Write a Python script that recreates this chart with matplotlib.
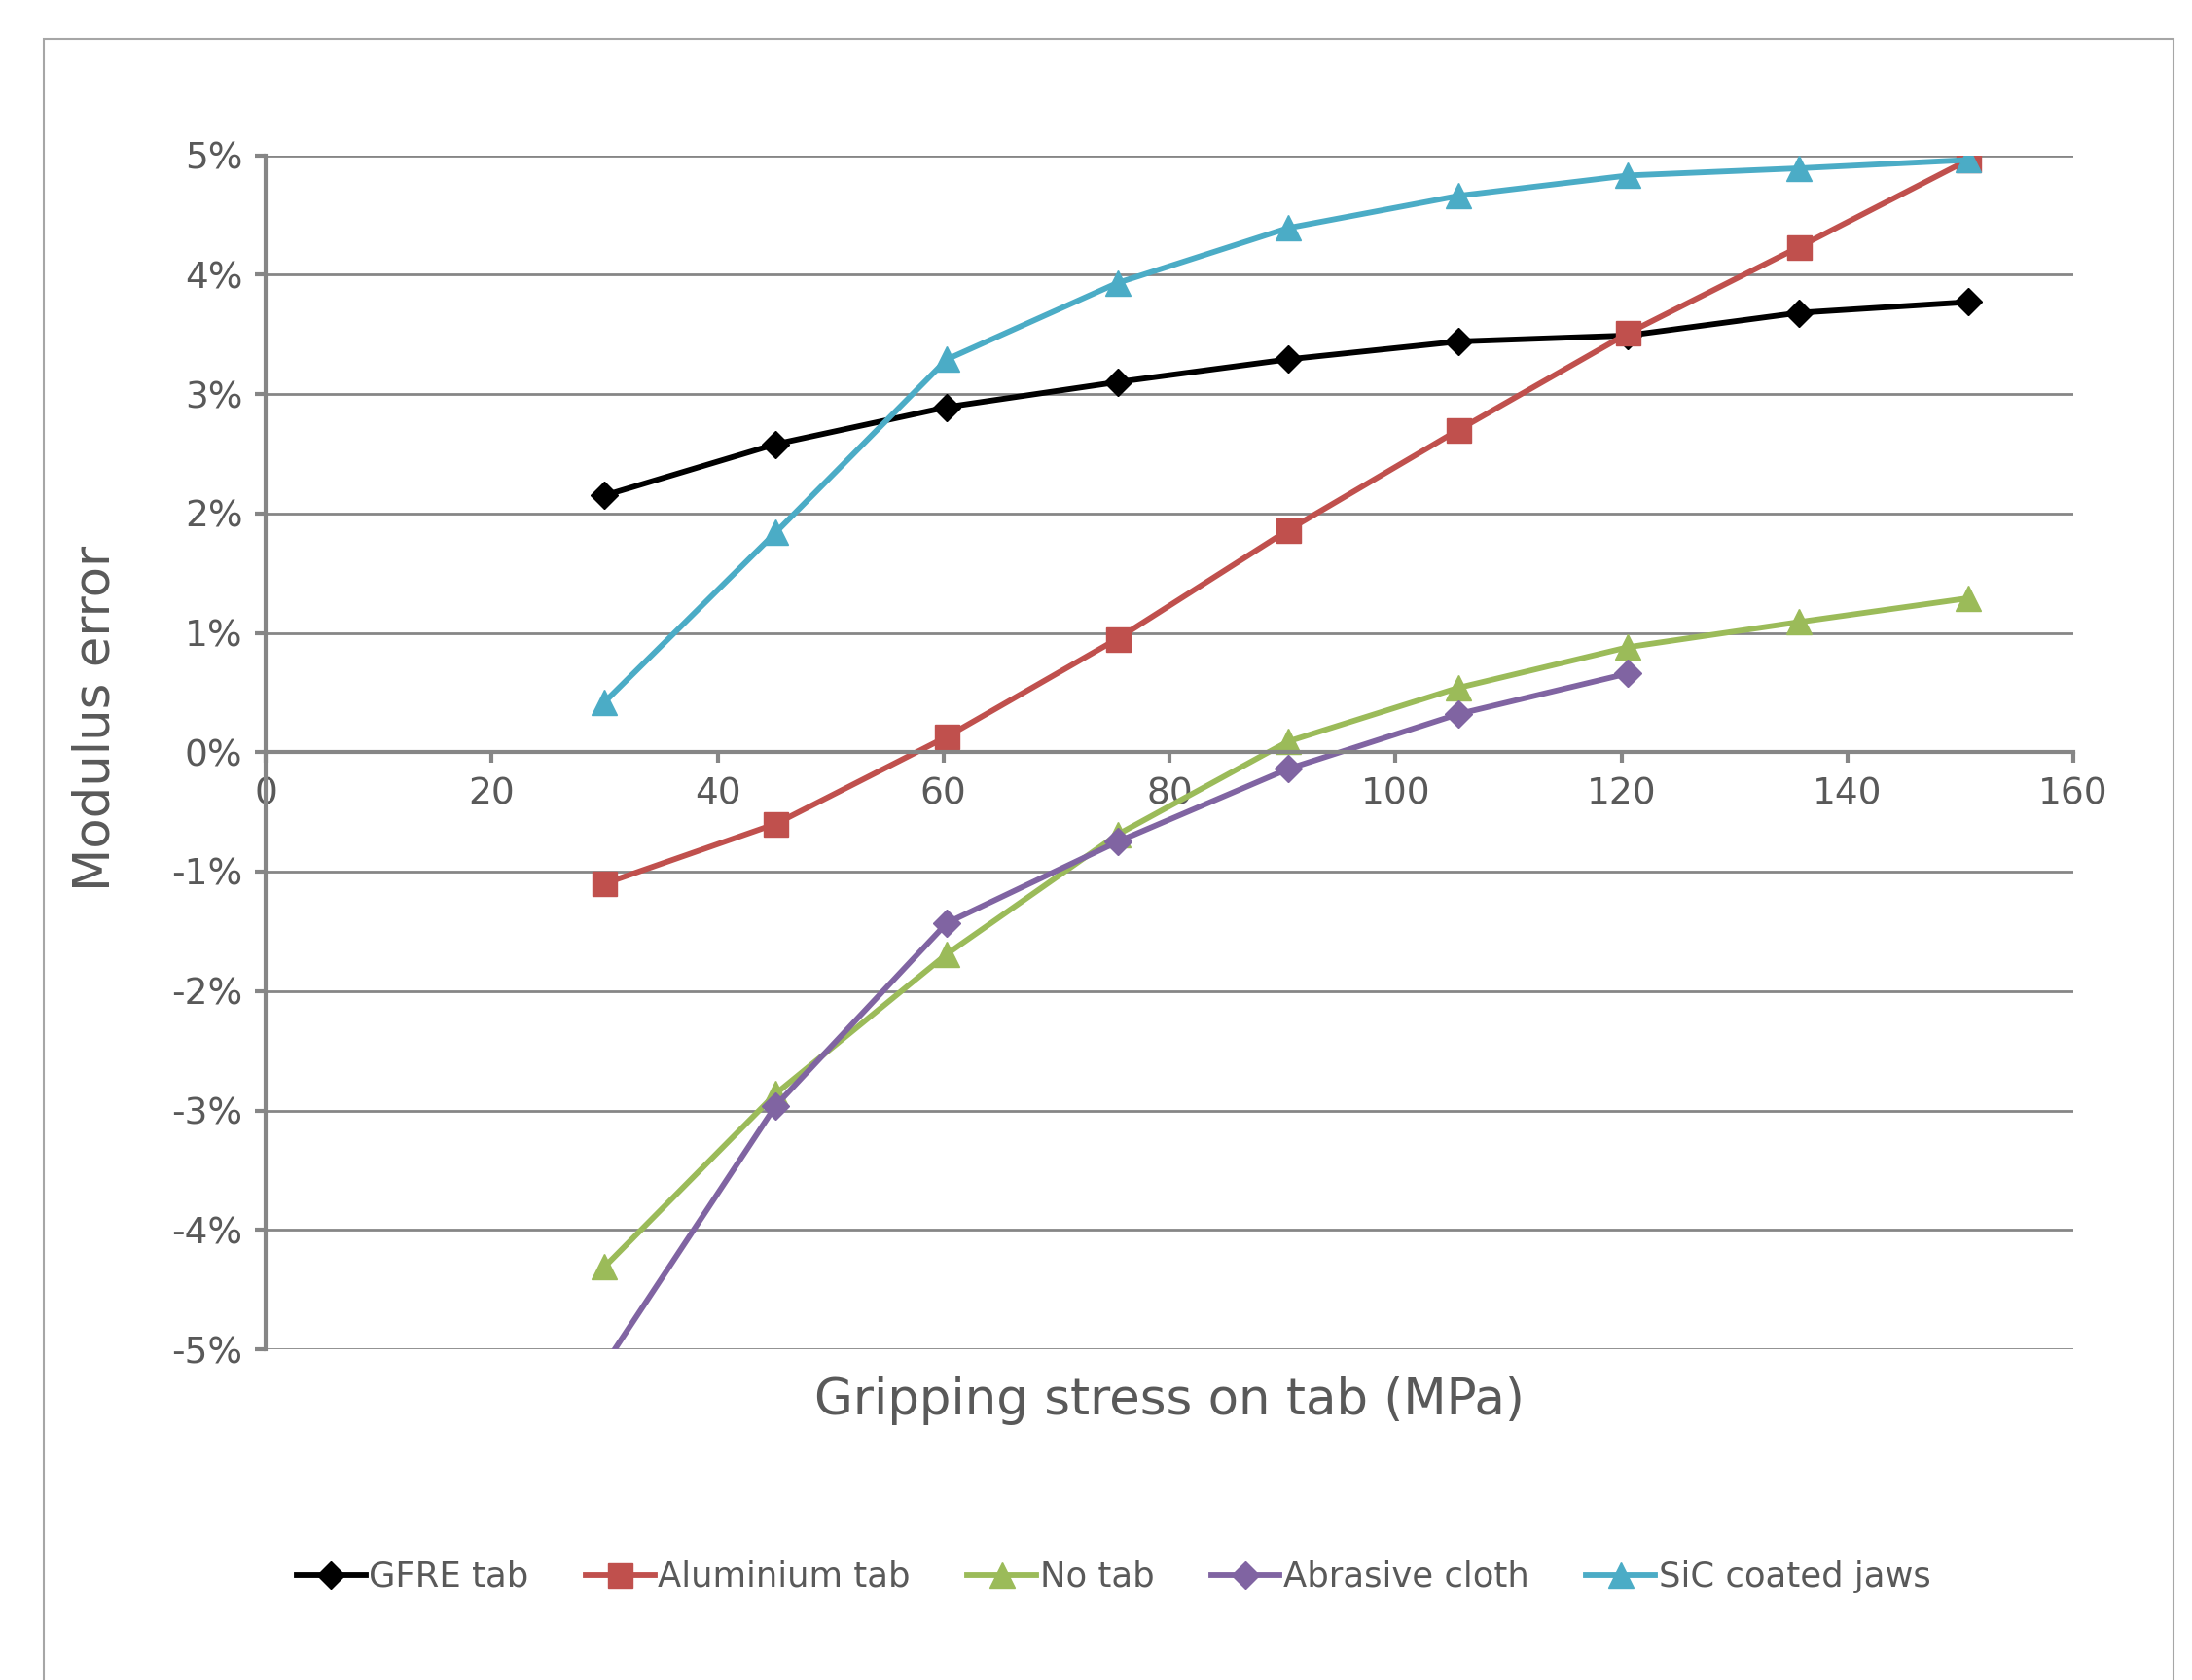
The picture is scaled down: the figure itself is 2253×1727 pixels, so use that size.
import matplotlib
matplotlib.use("Agg")
import matplotlib.pyplot as plt
from matplotlib.patches import Rectangle

# ---- data ----
stress = [30.0, 45.15, 60.3, 75.4, 90.5, 105.6, 120.6, 135.7, 150.7]
gfre = [2.15, 2.58, 2.89, 3.10, 3.29, 3.44, 3.49, 3.68, 3.77]
aluminium = [-1.10, -0.60, 0.13, 0.95, 1.86, 2.70, 3.51, 4.23, 4.96]
no_tab = [-4.31, -2.86, -1.69, -0.69, 0.09, 0.54, 0.88, 1.09, 1.29]
abrasive_x = [30.0, 45.15, 60.3, 75.4, 90.5, 105.6, 120.6]
abrasive = [-5.13, -2.96, -1.43, -0.75, -0.14, 0.32, 0.66]
sic = [0.42, 1.84, 3.29, 3.93, 4.39, 4.66, 4.83, 4.89, 4.96]

series_names = ["GFRE tab", "Aluminium tab", "No tab", "Abrasive cloth", "SiC coated jaws"]
x_ticks = [0, 20, 40, 60, 80, 100, 120, 140, 160]
y_ticks = [-5, -4, -3, -2, -1, 0, 1, 2, 3, 4, 5]
y_tick_labels = ["-5%", "-4%", "-3%", "-2%", "-1%", "0%", "1%", "2%", "3%", "4%", "5%"]

# ---- style ----
plt.rcParams['font.family'] = ['DejaVu Sans']
txt = "#595959"
grid = "#868686"

fig = plt.figure(figsize=(22.53, 17.27), dpi=100)
fig.patch.set_facecolor("white")

# chart area border
fig.add_artist(Rectangle((45/2253, -0.02), (2234-45)/2253, 1-40/1727+0.02,
                         transform=fig.transFigure, fill=False,
                         edgecolor="#a6a6a6", linewidth=1.5))

ax = fig.add_axes([273/2253, 1-1387/1727, (2131-273)/2253, (1387-159.5)/1727])

lw = 4.2
ax.plot(stress, gfre, color="#000000", lw=lw, marker="D", ms=14, label=series_names[0])
ax.plot(stress, aluminium, color="#C0504D", lw=lw, marker="s", ms=18, label=series_names[1])
ax.plot(stress, no_tab, color="#9BBB59", lw=lw, marker="^", ms=19, label=series_names[2])
ax.plot(abrasive_x, abrasive, color="#8064A2", lw=lw, marker="D", ms=14, label=series_names[3])
ax.plot(stress, sic, color="#4BACC6", lw=lw, marker="^", ms=19, label=series_names[4])

ax.set_xlim(0, 160)
ax.set_ylim(-5, 5)
ax.set_xticks(x_ticks)
ax.set_yticks(y_ticks)
ax.set_yticklabels(y_tick_labels)

ax.spines['top'].set_visible(False)
ax.spines['right'].set_visible(False)
ax.spines['bottom'].set_position(('data', 0))
for s in ['left', 'bottom']:
    ax.spines[s].set_color(grid)
    ax.spines[s].set_linewidth(3)

ax.yaxis.grid(True, color=grid, linewidth=2)
ax.set_axisbelow(True)
ax.tick_params(axis='both', colors=grid, length=8, width=3, labelsize=27, labelcolor=txt)
ax.tick_params(axis='x', pad=10)
ax.tick_params(axis='y', pad=9)

ax.set_xlabel("Gripping stress on tab (MPa)", fontsize=37, color=txt)
ax.xaxis.set_label_coords(0.5, -0.043)
ax.xaxis.label.set_va('center')
ax.set_ylabel("Modulus error", fontsize=37, color=txt)
ax.yaxis.set_label_coords(-0.094, 0.528)
ax.yaxis.label.set_va('center')

leg = fig.legend(loc='center', bbox_to_anchor=(0.508, 0.0614), ncol=5, frameon=False,
                 fontsize=25.5, handlelength=2.0, columnspacing=1.65, handletextpad=0.1)
for t in leg.get_texts():
    t.set_color(txt)

fig.savefig("out.png", dpi=100)
